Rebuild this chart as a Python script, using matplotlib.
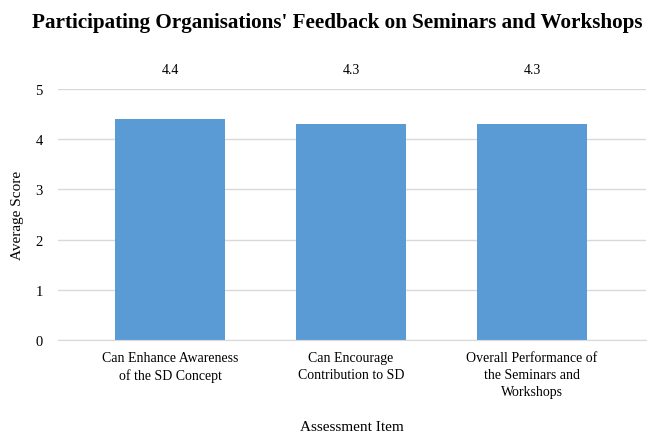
import matplotlib
matplotlib.use("Agg")
import matplotlib.pyplot as plt

categories = ["Can Enhance Awareness\nof the SD Concept",
              "Can Encourage\nContribution to SD",
              "Overall Performance of\nthe Seminars and\nWorkshops"]
values = [4.4, 4.3, 4.3]
yticks = [0, 1, 2, 3, 4, 5]

plt.rcParams['font.family'] = ['Liberation Serif', 'DejaVu Serif']

W, H = 654, 439
fig = plt.figure(figsize=(W/100, H/100), dpi=100)
ax = fig.add_axes([58/W, 1-341/H, (646-58)/W, (341-90)/H])

x = list(range(len(categories)))
ax.bar(x, values, width=0.61, color="#5B9BD5", zorder=2)
for xi, v in zip(x, values):
    ax.text(xi, 5.38, f"{v}", ha="center", va="center", fontsize=10, clip_on=False)

ax.set_xlim(-0.62, 2.63)
ax.set_ylim(0, 5)
ax.set_yticks(yticks)
ax.set_yticklabels([str(t) for t in yticks], fontsize=10.5)
ax.set_xticks(x)
ax.set_xticklabels(categories, fontsize=10, linespacing=1.4, va="top")
ax.tick_params(axis="both", length=0)
ax.tick_params(axis="x", pad=8)
ax.tick_params(axis="y", pad=11)
ax.grid(axis="y", color="#d9d9d9", linewidth=1, zorder=0)
for s in ["top", "right", "left"]:
    ax.spines[s].set_visible(False)
ax.spines["bottom"].set_color("#d9d9d9")

ax.set_ylabel("Average Score", fontsize=11, labelpad=8)
fig.text(352/W, 1-428/H, "Assessment Item", ha="center", va="center", fontsize=11)
fig.text(337/W, 1-23/H, "Participating Organisations' Feedback on Seminars and Workshops",
         ha="center", va="center", fontsize=15.2, fontweight="bold")

fig.savefig("out.png", dpi=100)
